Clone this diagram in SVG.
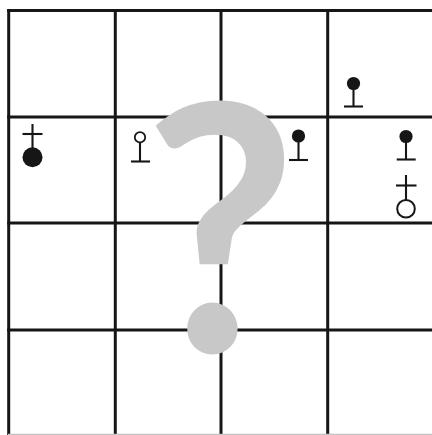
<svg xmlns="http://www.w3.org/2000/svg" width="432" height="435" viewBox="0 0 432 435">
<style>
.grid line{stroke:#161616;stroke-width:3;stroke-linecap:butt}
.sym line{stroke:#161616;stroke-width:2.1}
.fill{fill:#161616}
.open{fill:#fff;stroke:#161616;stroke-width:2}
.qm{fill:#c8c8c8;font-family:Lato,"Noto Sans",sans-serif;font-weight:bold;font-size:360px}
</style>
<rect width="432" height="435" fill="#fff"/>
<g id="grid" class="grid">
<line x1="8.7" y1="9" x2="8.7" y2="435"/>
<line x1="115.3" y1="9" x2="115.3" y2="435"/>
<line x1="221" y1="9" x2="221" y2="435"/>
<line x1="327.7" y1="9" x2="327.7" y2="435"/>
<line x1="7.2" y1="10.5" x2="432" y2="10.5"/>
<line x1="7.2" y1="117" x2="432" y2="117"/>
<line x1="7.2" y1="223" x2="432" y2="223"/>
<line x1="7.2" y1="330" x2="432" y2="330"/>
<line x1="8" y1="434.4" x2="432" y2="434.4" style="stroke:#c4c4c4;stroke-width:1.2"/>
</g>
<g id="sym-r0c3" class="sym">
<line x1="353.5" y1="84" x2="353.5" y2="106.5"/>
<line x1="344" y1="106.5" x2="363" y2="106.5"/>
<circle class="fill" cx="353.5" cy="83.5" r="6.6"/>
</g>
<g id="sym-r1c0" class="sym">
<line x1="32.5" y1="124" x2="32.5" y2="150"/>
<line x1="22.5" y1="134" x2="42.5" y2="134"/>
<circle class="fill" cx="32.5" cy="157.3" r="10"/>
</g>
<g id="sym-r1c1" class="sym">
<line x1="140" y1="143" x2="140" y2="161.5"/>
<line x1="131" y1="161.5" x2="150" y2="161.5"/>
<circle class="open" cx="140" cy="137.3" r="5.2" style="stroke-width:1.8"/>
</g>
<g id="sym-r1c2" class="sym">
<line x1="298.5" y1="136.5" x2="298.5" y2="160"/>
<line x1="289" y1="160" x2="308" y2="160"/>
<circle class="fill" cx="298.5" cy="136" r="6.6"/>
</g>
<g id="sym-r1c3a" class="sym">
<line x1="406" y1="137" x2="406" y2="159.5"/>
<line x1="396.7" y1="159.5" x2="415.7" y2="159.5"/>
<circle class="fill" cx="406" cy="136.5" r="6.6"/>
</g>
<g id="sym-r1c3b" class="sym">
<line x1="406" y1="175" x2="406" y2="200"/>
<line x1="396" y1="185.5" x2="416.5" y2="185.5"/>
<circle class="open" cx="406" cy="208.7" r="8.8"/>
</g>
<g id="question">
<text class="qm" transform="translate(220.5 352) scale(0.925 0.956)" text-anchor="middle">?</text>
</g>
</svg>
